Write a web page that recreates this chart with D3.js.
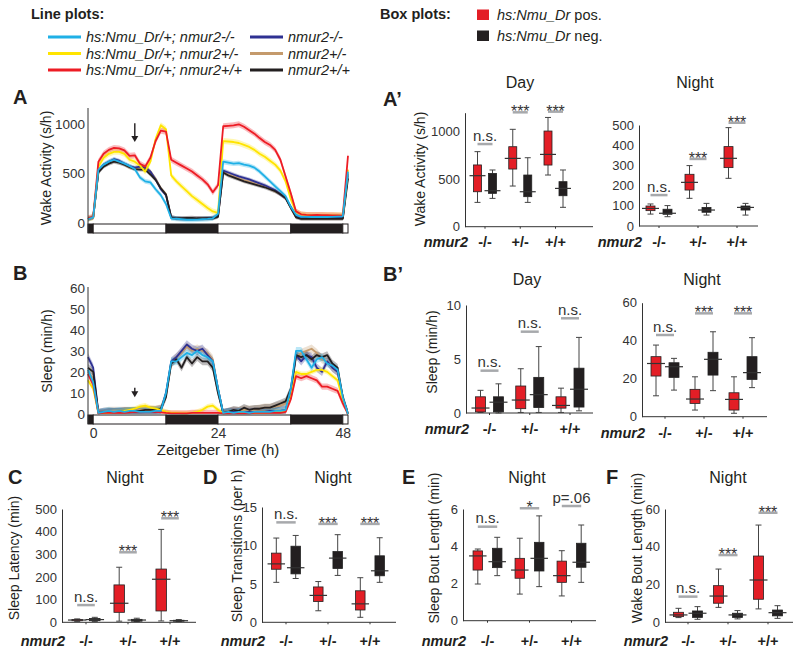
<!DOCTYPE html>
<html>
<head>
<meta charset="utf-8">
<script src="https://cdn.jsdelivr.net/npm/d3@7"></script>
<style>
  body { margin: 0; background: #fff; }
  svg { display: block; font-family: Arial, "Liberation Sans", Helvetica, sans-serif; }
</style>
</head>
<body>
<svg id="fig" width="800" height="653"></svg>
<script>
// ---------- line plot data (hourly, ZT -1 .. 49) ----------
const hours = d3.range(-1, 50);
const lightPhases = [
  { start: -1, end: 0, dark: true },
  { start: 0, end: 14, dark: false },
  { start: 14, end: 24, dark: true },
  { start: 24, end: 38, dark: false },
  { start: 38, end: 48, dark: true },
  { start: 48, end: 49, dark: false }
];

const lineNames = ["hs:Nmu_Dr/+; nmur2-/-", "hs:Nmu_Dr/+; nmur2+/-", "hs:Nmu_Dr/+; nmur2+/+",
                   "nmur2-/-", "nmur2+/-", "nmur2+/+"];
const lineColors = ["#1fb0e6", "#ffe400", "#ed1c24", "#2e3192", "#c49a6c", "#231f20"];
const drawOrder = [4, 3, 5, 1, 2, 0];

// wake activity (s/h)
const wakeCyan   = [35,55, 540,590,620,640,620,600,575,545,460,420, 410,340,280,190, 45,40,35,30,30,32,35,38,45,90, 620,610,600,605,590,580,560,520,470,420, 370,320,270,160,80, 60,60,58,58,58,58,60,62,65, 520];
const wakeYellow = [40,55, 570,660,700,720,720,700,640,620,580,520, 620,850,990,950, 480,420,370,320,270,230,190,150,115,100, 830,825,820,810,790,770,740,700,670,630, 590,530,420,240,110, 85,80,75,75,75,75,75,75,75, 540];
const wakeRed    = [45,60, 620,700,740,760,755,735,680,685,600,570, 660,830,935,925, 640,610,580,550,520,480,440,390,310,380, 980,985,990,1000,975,940,905,860,820,790, 740,640,470,300,115, 85,80,78,80,78,76,75,74,72, 680];
const wakeBlue   = [40,55, 530,590,620,645,630,600,575,560,570,560, 520,440,340,280, 55,45,40,40,40,42,42,45,50,70, 530,510,490,470,455,440,420,400,380,355, 330,290,250,160,70, 50,50,50,50,50,50,50,50,50, 500];
const wakeTan    = [40,55, 520,580,610,630,610,590,560,550,560,580, 520,450,350,290, 55,45,42,42,42,45,45,45,50,65, 510,490,470,450,430,420,400,385,370,345, 320,290,250,150,60, 45,45,45,45,45,45,45,45,45, 480];
const wakeBlack  = [40,55, 510,570,600,620,610,590,565,545,540,540, 490,435,350,285, 55,45,45,48,50,45,45,45,45,60, 510,480,460,440,420,405,390,375,360,340, 320,290,250,150,55, 40,40,40,40,40,40,40,40,40, 450];
const wakeSem = [25, 30, 30, 20, 20, 20];

// sleep (min/h)
const sleepCyan   = [21,15, 0.5,1,1.5,1,1.5,1,1.5,1.5,1,1, 1,1.5,1.5,10, 25,25,27,29,28,30,28,27,25,12, 0.5,1,0.5,1,1,0.5,1,1,1,1, 1.5,1.5,2,12,30, 30,26,22,26,27,24,23,21,8, 0];
const sleepYellow = [16,12, 0.5,0.5,0.5,1,1,1.5,2,2.5,3.5,4, 3,2.5,2,1, 0.5,0.5,0.3,0.3,0.5,1,2,3.5,4,2, 0.3,0.5,0.5,0.5,0.5,0.5,0.5,0.7,0.7,0.8, 1,1,1.5,8,20, 19,19,20,21,21,20,18,16,6, 0];
const sleepRed    = [19,14, 0.3,0.5,0.5,0.5,0.5,0.5,0.8,1,1,1, 1,1,0.8,0.5, 0.3,0.3,0.3,0.3,0.5,0.5,0.5,0.5,0.5,0.5, 0.3,0.3,0.3,0.3,0.3,0.3,0.5,0.5,0.5,0.5, 0.5,0.5,1,7,18, 17,18,17,16,13,13,12,11,5, 0];
const sleepBlue   = [27,22, 0.5,1,1,1,1,1,1,1,1,1, 1,1,1.5,10, 25,27,30,33,31,30,31,28,25,12, 0.5,1,1,1,1,1,1,1,1,1.5, 1.5,1.5,2,10,28, 25,28,27,22,20,25,22,20,7, 0];
const sleepTan    = [20,17, 0.5,1,1.5,1.5,1.5,1.5,1.5,1.5,2,2, 2,2,2.5,9, 24,27,29,32,30,31,30,29,26,12, 0.5,1,1.5,1.5,2,2,2,2.5,3,3, 3.5,4,5,10,27, 29,30,31,29,26,25,22,20,8, 0];
const sleepBlack  = [22,20, 0.5,0.5,1,1,1,1.5,1.5,1.5,1.5,2, 2,2,2.5,8, 24,26,22,27,24,27,25,25,22,10, 0.5,1,2,1.5,3,2,2.5,2.5,3,3, 4,5,6,12,28, 27,28,26,28,27,28,24,22,8, 0];
const sleepSem = [1.8, 1.2, 1.5, 2, 2, 1.8];

// ---------- box plot data: [min, q1, median, q3, max] ----------
const genotypes = ["-/-", "+/-", "+/+"];

const wakeDayPos   = [[256,368,537,650,790], [428,607,719,842,1025], [544,649,761,1007,1150]];
const wakeDayNeg   = [[298,351,379,561,597], [256,316,368,544,726], [204,326,403,474,597]];
const wakeNightPos = [[59,76,87,99,109], [137,178,216,256,299], [236,289,335,393,487]];
const wakeNightNeg = [[46,58,63,83,101], [54,68,79,92,112], [54,79,92,99,112]];
const sleepDayPos  = [[0.05,0.1,0.46,1.5,2.1], [0.05,0.4,1.2,2.5,4.1], [0.05,0.45,0.7,1.5,2.3]];
const sleepDayNeg  = [[0,0.1,1.0,1.5,2.7], [0.05,0.5,1.7,3.3,6.15], [0.2,0.55,2.2,4.15,7.0]];
const sleepNightPos = [[11,21.4,28,31.6,37.7], [3.5,7,9.3,14.4,21], [1.8,3.5,9.1,12.6,21]];
const sleepNightNeg = [[14,20.7,26.3,28.4,30.7], [13.7,21.9,30.2,33.9,44.7], [15.3,19.6,23.2,31.6,41.6]];
const latencyPos = [[4,7,10,12,15], [5,44,84,165,243], [6,50,190,235,410]];
const latencyNeg = [[3,7,12,17,22], [3,5,10,13,18], [3,5,7,9,12]];
const transPos = [[5.2,6.9,7.6,9.0,10.96], [1.5,2.7,3.5,4.6,5.3], [0.65,1.6,2.4,4.1,5.8]];
const transNeg = [[5.7,6.3,7.1,9.9,11.3], [6.1,7.0,8.35,9.2,11.4], [5.2,6.05,6.7,8.65,11.0]];
const sleepBoutPos = [[1.97,2.72,3.48,3.75,3.85], [1.43,2.28,2.72,3.35,4.43], [1.33,2.06,2.42,3.2,3.76]];
const sleepBoutNeg = [[2.42,2.85,3.17,3.89,4.48], [1.83,2.67,3.35,4.21,5.63], [2.06,2.87,3.14,4.16,5.14]];
const wakeBoutPos = [[2.5,3.0,3.9,5.3,7.4], [7.9,10.1,13.9,19.4,28.2], [7.1,12.2,22.4,35.1,51.5]];
const wakeBoutNeg = [[1.6,2.6,4.8,6.0,8.3], [1.8,2.6,3.9,4.8,6.2], [2.1,3.4,5.1,6.5,8.8]];

// significance labels and bar heights (data units)
const sigWakeDay = ["n.s.", "***", "***"],   sigWakeDayY = [870, 1204, 1211];
const sigWakeNight = ["n.s.", "***", "***"], sigWakeNightY = [153, 332, 511];
const sigSleepDay = ["n.s.", "n.s.", "n.s."], sigSleepDayY = [3.92, 7.53, 8.77];
const sigSleepNight = ["n.s.", "***", "***"], sigSleepNightY = [43, 54.4, 54.4];
const sigLatency = ["n.s.", "***", "***"],   sigLatencyY = [76, 309, 459];
const sigTrans = ["n.s.", "***", "***"],     sigTransY = [13, 12.8, 12.8];
const sigSleepBout = ["n.s.", "*", "p=.06"], sigSleepBoutY = [5.05, 6.04, 6.16];
const sigWakeBout = ["n.s.", "***", "***"],  sigWakeBoutY = [13.6, 35.6, 58];

// ---------- drawing ----------
const svg = d3.select('#fig');
const INK = '#231f20';
const BOX_RED = '#e31e26';
const FONT = 'Arial, "Liberation Sans", sans-serif';

function txt(parent, x, y, s, opts = {}) {
  return parent.append('text')
    .attr('x', x).attr('y', y)
    .attr('font-size', opts.size || 14)
    .attr('font-weight', opts.weight || 'normal')
    .attr('font-style', opts.style || 'normal')
    .attr('text-anchor', opts.anchor || 'start')
    .attr('fill', opts.fill || INK)
    .text(s);
}

function yTitle(parent, x, y, s) {
  parent.append('text')
    .attr('transform', `translate(${x},${y}) rotate(-90)`)
    .attr('text-anchor', 'middle')
    .attr('font-size', 14)
    .attr('fill', INK)
    .text(s);
}

// legends
txt(svg, 31, 19, 'Line plots:', { size: 14.5, weight: 'bold' });
lineNames.forEach((name, i) => {
  const col = i < 3 ? 0 : 1;
  const row = i % 3;
  const lx = col === 0 ? 48 : 250;
  const ly = 37 + row * 16.5;
  svg.append('line').attr('x1', lx).attr('x2', lx + 33).attr('y1', ly).attr('y2', ly)
    .attr('stroke', lineColors[i]).attr('stroke-width', 3);
  txt(svg, lx + 38, ly + 5, name, { size: 14.5, style: 'italic' });
});

txt(svg, 380, 19, 'Box plots:', { size: 14.5, weight: 'bold' });
[['pos.', BOX_RED], ['neg.', INK]].forEach(([lab, col], i) => {
  const yy = 9.5 + i * 21;
  svg.append('rect').attr('x', 477).attr('y', yy).attr('width', 12).attr('height', 10.5).attr('fill', col);
  const t = txt(svg, 497, yy + 10.5, '', { size: 14.5 });
  t.append('tspan').attr('font-style', 'italic').text('hs:Nmu_Dr');
  t.append('tspan').text(' ' + lab);
});

// line panels
function linePanel(cfg) {
  const x = d3.scaleLinear().domain([-1, 49]).range([88, 348]);
  const y = d3.scaleLinear().domain(cfg.domain).range(cfg.range);
  const g = svg.append('g');

  drawOrder.forEach(i => {
    const sem = cfg.sem[i];
    const area = d3.area()
      .x((d, k) => x(hours[k]))
      .y0(d => y(Math.max(0, d - sem)))
      .y1(d => y(d + sem));
    g.append('path').datum(cfg.series[i]).attr('d', area)
      .attr('fill', lineColors[i]).attr('opacity', 0.3);
  });
  drawOrder.forEach(i => {
    const line = d3.line().x((d, k) => x(hours[k])).y(d => y(d));
    g.append('path').datum(cfg.series[i]).attr('d', line)
      .attr('fill', 'none').attr('stroke', lineColors[i])
      .attr('stroke-width', 1.8).attr('stroke-linejoin', 'round');
  });

  // light / dark bar
  g.selectAll('rect.ld').data(lightPhases).join('rect')
    .attr('class', 'ld')
    .attr('x', d => x(d.start)).attr('width', d => x(d.end) - x(d.start))
    .attr('y', cfg.barY).attr('height', 9)
    .attr('fill', d => d.dark ? INK : '#fff')
    .attr('stroke', INK).attr('stroke-width', 1);

  // y axis
  const axG = g.append('g').attr('transform', 'translate(88,0)')
    .call(d3.axisLeft(y).tickValues(cfg.ticks).tickFormat(d => d).tickSize(0).tickPadding(3));
  axG.select('.domain').remove();
  axG.selectAll('text').attr('font-size', 13.5).attr('fill', '#333').attr('font-family', FONT);
  g.append('line').attr('x1', 88).attr('x2', 88).attr('y1', cfg.axisTop).attr('y2', cfg.barY + 9)
    .attr('stroke', '#333').attr('stroke-width', 1);

  // arrow marking heat shock
  const ax = x(cfg.arrow.t);
  const ay0 = y(cfg.arrow.from), ay1 = y(cfg.arrow.to);
  g.append('line').attr('x1', ax).attr('x2', ax).attr('y1', ay0).attr('y2', ay1 - 5)
    .attr('stroke', INK).attr('stroke-width', 1.4);
  g.append('path').attr('d', `M${ax - 3.5},${ay1 - 6} L${ax + 3.5},${ay1 - 6} L${ax},${ay1} Z`).attr('fill', INK);

  txt(g, 13, cfg.letterY, cfg.letter, { size: 20, weight: 'bold' });
  yTitle(g, cfg.ylabelX, cfg.ylabelY, cfg.ylabel);

  if (cfg.xTicks) {
    const xg = g.append('g').attr('transform', `translate(0,${cfg.barY + 9})`)
      .call(d3.axisBottom(x).tickValues(cfg.xTicks).tickSize(0).tickPadding(4));
    xg.select('.domain').remove();
    xg.selectAll('text').attr('font-size', 14).attr('fill', '#333').attr('font-family', FONT);
    txt(g, 218, 455, 'Zeitgeber Time (h)', { size: 15, anchor: 'middle' });
  }
}

linePanel({
  series: [wakeCyan, wakeYellow, wakeRed, wakeBlue, wakeTan, wakeBlack], sem: wakeSem,
  domain: [0, 1000], range: [222.7, 124.3], ticks: [0, 500, 1000],
  axisTop: 108, barY: 224, letter: 'A', letterY: 104,
  ylabel: 'Wake Activity (s/h)', ylabelX: 51, ylabelY: 168,
  arrow: { t: 8, from: 1010, to: 820 }
});
linePanel({
  series: [sleepCyan, sleepYellow, sleepRed, sleepBlue, sleepTan, sleepBlack], sem: sleepSem,
  domain: [0, 60], range: [414, 287.7], ticks: [0, 10, 20, 30, 40, 50, 60],
  axisTop: 287, barY: 415, letter: 'B', letterY: 280,
  ylabel: 'Sleep (min/h)', ylabelX: 52, ylabelY: 351,
  arrow: { t: 8, from: 12.5, to: 8 }, xTicks: [0, 24, 48]
});

// box panels
function boxPanel(cfg) {
  const y = d3.scaleLinear().domain(cfg.domain).range([cfg.y0, cfg.yTop]);
  const x = d3.scalePoint().domain(genotypes).range(cfg.centers);
  const g = svg.append('g');

  const axG = g.append('g').attr('transform', `translate(${cfg.axisX},0)`)
    .call(d3.axisLeft(y).tickValues(cfg.ticks).tickFormat(d => d)
      .tickSize(0).tickPadding(5).tickSizeOuter(0));
  axG.select('.domain').attr('stroke', '#333');
  axG.selectAll('text').attr('font-size', 13).attr('fill', '#333').attr('font-family', FONT);

  g.append('line').attr('x1', cfg.axisX).attr('x2', cfg.axisEnd)
    .attr('y1', cfg.y0).attr('y2', cfg.y0).attr('stroke', '#333');
  g.selectAll('line.ctick').data(genotypes).join('line').attr('class', 'ctick')
    .attr('x1', d => x(d)).attr('x2', d => x(d))
    .attr('y1', cfg.y0).attr('y2', cfg.y0 + 2).attr('stroke', '#333');

  function drawBox(cx, s, fill) {
    const bw = cfg.boxW;
    g.append('line').attr('x1', cx).attr('x2', cx).attr('y1', y(s[0])).attr('y2', y(s[1]))
      .attr('stroke', '#444').attr('stroke-width', 1);
    g.append('line').attr('x1', cx).attr('x2', cx).attr('y1', y(s[3])).attr('y2', y(s[4]))
      .attr('stroke', '#444').attr('stroke-width', 1);
    [s[0], s[4]].forEach(v => {
      g.append('line').attr('x1', cx - 3).attr('x2', cx + 3).attr('y1', y(v)).attr('y2', y(v))
        .attr('stroke', '#444').attr('stroke-width', 1);
    });
    g.append('rect').attr('x', cx - bw / 2).attr('width', bw)
      .attr('y', y(s[3])).attr('height', Math.max(0.8, y(s[1]) - y(s[3])))
      .attr('fill', fill).attr('stroke', '#222').attr('stroke-width', 0.8);
    g.append('line').attr('x1', cx - bw / 2 - 4).attr('x2', cx + bw / 2 + 4)
      .attr('y1', y(s[2])).attr('y2', y(s[2]))
      .attr('stroke', '#333').attr('stroke-width', 1.2);
  }

  genotypes.forEach((gt, i) => {
    drawBox(x(gt) - cfg.offset, cfg.pos[i], BOX_RED);
    drawBox(x(gt) + cfg.offset, cfg.neg[i], INK);

    const sy = y(cfg.sigY[i]);
    g.append('line').attr('x1', x(gt) - cfg.offset).attr('x2', x(gt) + cfg.offset)
      .attr('y1', sy).attr('y2', sy).attr('stroke', '#a7a9ac').attr('stroke-width', 2.5);
    const lab = cfg.sig[i];
    const isStar = lab.indexOf('*') >= 0;
    txt(g, x(gt), isStar ? sy + 5 : sy - 3.5, lab, { size: isStar ? 16 : 15, anchor: 'middle', fill: '#333' });

    txt(g, x(gt), cfg.labelY, gt, { size: 14.5, weight: 'bold', anchor: 'middle' });
  });
  txt(g, cfg.axisX + 3, cfg.labelY, 'nmur2', { size: 14.5, weight: 'bold', style: 'italic', anchor: 'end' });

  txt(g, cfg.titleX, cfg.titleY, cfg.title, { size: 16, anchor: 'middle' });
  if (cfg.ylabel) yTitle(g, cfg.ylabelX, cfg.ylabelY, cfg.ylabel);
  if (cfg.letter) txt(g, cfg.letterX, cfg.letterY, cfg.letter, { size: 20, weight: 'bold' });
}

const boxPanels = [
  { letter: 'A’', letterX: 383, letterY: 106, title: 'Day', titleX: 520, titleY: 88,
    ylabel: 'Wake Activity (s/h)', ylabelX: 425, ylabelY: 169,
    pos: wakeDayPos, neg: wakeDayNeg, sig: sigWakeDay, sigY: sigWakeDayY,
    domain: [0, 1200], y0: 226.7, yTop: 112.7, ticks: [0, 500, 1000],
    axisX: 465, axisEnd: 593, centers: [485, 555.5], offset: 7.5, boxW: 8, labelY: 247 },
  { title: 'Night', titleX: 695, titleY: 88,
    pos: wakeNightPos, neg: wakeNightNeg, sig: sigWakeNight, sigY: sigWakeNightY,
    domain: [0, 500], y0: 226, yTop: 125, ticks: [0, 100, 200, 300, 400, 500],
    axisX: 639, axisEnd: 758, centers: [659, 737], offset: 8.5, boxW: 9, labelY: 247 },
  { letter: 'B’', letterX: 383, letterY: 281, title: 'Day', titleX: 527, titleY: 285,
    ylabel: 'Sleep (min/h)', ylabelX: 437, ylabelY: 352,
    pos: sleepDayPos, neg: sleepDayNeg, sig: sigSleepDay, sigY: sigSleepDayY,
    domain: [0, 10], y0: 413, yTop: 305, ticks: [0, 5, 10],
    axisX: 466, axisEnd: 593, centers: [489.5, 570], offset: 9, boxW: 10, labelY: 434 },
  { title: 'Night', titleX: 702, titleY: 285,
    pos: sleepNightPos, neg: sleepNightNeg, sig: sigSleepNight, sigY: sigSleepNightY,
    domain: [0, 60], y0: 416.7, yTop: 302.7, ticks: [0, 20, 40, 60],
    axisX: 642, axisEnd: 767, centers: [665, 743], offset: 9, boxW: 10, labelY: 437.5 },
  { letter: 'C', letterX: 8, letterY: 484, title: 'Night', titleX: 125, titleY: 483,
    ylabel: 'Sleep Latency (min)', ylabelX: 19, ylabelY: 558,
    pos: latencyPos, neg: latencyNeg, sig: sigLatency, sigY: sigLatencyY,
    domain: [0, 500], y0: 622.3, yTop: 509, ticks: [0, 100, 200, 300, 400, 500],
    axisX: 62, axisEnd: 196, centers: [86, 170], offset: 8.8, boxW: 10.5, labelY: 646 },
  { letter: 'D', letterX: 203, letterY: 484, title: 'Night', titleX: 333, titleY: 483,
    ylabel: 'Sleep Transitions (per h)', ylabelX: 242, ylabelY: 546,
    pos: transPos, neg: transNeg, sig: sigTrans, sigY: sigTransY,
    domain: [0, 15], y0: 622.3, yTop: 507, ticks: [0, 5, 10, 15],
    axisX: 262, axisEnd: 396, centers: [286, 370], offset: 9.7, boxW: 9.5, labelY: 646 },
  { letter: 'E', letterX: 402, letterY: 484, title: 'Night', titleX: 527, titleY: 483,
    ylabel: 'Sleep Bout Length (min)', ylabelX: 439, ylabelY: 548,
    pos: sleepBoutPos, neg: sleepBoutNeg, sig: sigSleepBout, sigY: sigSleepBoutY,
    domain: [0, 6], y0: 620.7, yTop: 509, ticks: [0, 2, 4, 6],
    axisX: 463, axisEnd: 596, centers: [487.5, 571.5], offset: 9.7, boxW: 9.5, labelY: 646 },
  { letter: 'F', letterX: 606, letterY: 484, title: 'Night', titleX: 728, titleY: 483,
    ylabel: 'Wake Bout Length (min)', ylabelX: 642, ylabelY: 548,
    pos: wakeBoutPos, neg: wakeBoutNeg, sig: sigWakeBout, sigY: sigWakeBoutY,
    domain: [0, 60], y0: 622.3, yTop: 509, ticks: [0, 20, 40, 60],
    axisX: 665, axisEnd: 793, centers: [688, 768], offset: 9.5, boxW: 10, labelY: 646 }
];
boxPanels.forEach(boxPanel);
</script>
</body>
</html>
